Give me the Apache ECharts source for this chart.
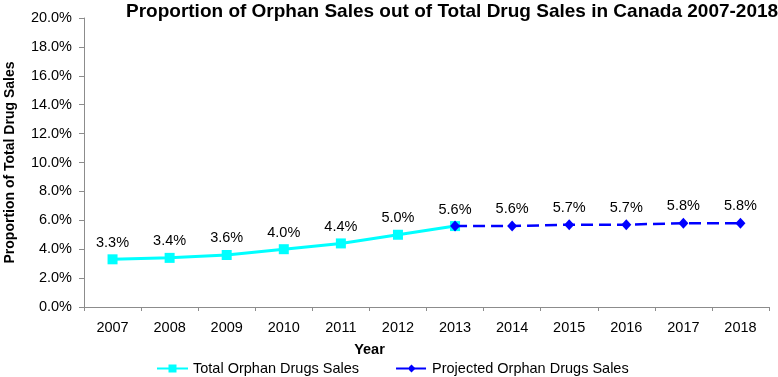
<!DOCTYPE html>
<html>
<head>
<meta charset="utf-8">
<script src="https://cdn.jsdelivr.net/npm/echarts@6/dist/echarts.min.js"></script>
<style>
  html, body { margin: 0; padding: 0; background: #fff; }
  #chart { width: 778px; height: 377px; }
</style>
</head>
<body>
<div id="chart"></div>
<script>
const years = ['2007', '2008', '2009', '2010', '2011', '2012', '2013', '2014', '2015', '2016', '2017', '2018'];
const totalSales = [3.3, 3.4, 3.6, 4.0, 4.4, 5.0, 5.6, '-', '-', '-', '-', '-'];
const projectedSales = ['-', '-', '-', '-', '-', '-', 5.6, 5.6, 5.7, 5.7, 5.8, 5.8];

const font = 'Liberation Sans, Arial, sans-serif';
const fs = 14.5;

const chart = echarts.init(document.getElementById('chart'));
chart.setOption({
    animation: false,
    textStyle: { fontFamily: font },
    title: {
        text: 'Proportion of Orphan Sales out of Total Drug Sales in Canada 2007-2018',
        left: 121,
        top: -3,
        textStyle: { fontSize: 19, fontWeight: 'bold', color: '#000', fontFamily: font }
    },
    grid: { left: 84, right: 9, top: 18, bottom: 70, outerBoundsMode: 'none' },
    legend: {
        bottom: -4,
        left: 151,
        itemGap: 36,
        itemWidth: 31,
        itemHeight: 10,
        textStyle: { fontSize: fs, color: '#000', fontFamily: font },
        data: ['Total Orphan Drugs Sales', 'Projected Orphan Drugs Sales']
    },
    xAxis: {
        type: 'category',
        data: years,
        boundaryGap: true,
        name: 'Year',
        nameLocation: 'middle',
        nameGap: 35,
        nameTextStyle: { fontSize: fs, fontWeight: 'bold', color: '#000', padding: [0, 114, 0, 0] },
        axisLine: { lineStyle: { color: '#8c8c8c', width: 1 } },
        axisTick: { show: true, length: 4, lineStyle: { color: '#8c8c8c' } },
        axisLabel: { fontSize: fs, color: '#000', margin: 13 },
        splitLine: { show: false }
    },
    yAxis: {
        type: 'value',
        min: 0,
        max: 20,
        interval: 2,
        name: 'Proportion of Total Drug Sales',
        nameLocation: 'middle',
        nameGap: 67,
        nameTextStyle: { fontSize: 14, fontWeight: 'bold', color: '#000' },
        axisLine: { show: true, lineStyle: { color: '#8c8c8c', width: 1 } },
        axisTick: { show: true, length: 5, lineStyle: { color: '#8c8c8c' } },
        axisLabel: { fontSize: fs, color: '#000', margin: 12, formatter: v => v.toFixed(1) + '%' },
        splitLine: { show: false }
    },
    series: [
        {
            name: 'Total Orphan Drugs Sales',
            type: 'line',
            data: totalSales,
            symbol: 'rect',
            symbolSize: 10,
            color: '#00ffff',
            lineStyle: { color: '#00ffff', width: 3 },
            itemStyle: { color: '#00ffff' },
            label: {
                show: true,
                position: 'top',
                distance: 4,
                fontSize: fs,
                color: '#000',
                formatter: p => p.value.toFixed(1) + '%'
            },
            z: 2
        },
        {
            name: 'Projected Orphan Drugs Sales',
            type: 'line',
            data: projectedSales,
            symbol: 'diamond',
            symbolSize: [10, 11],
            color: '#0000ff',
            lineStyle: { color: '#0000ff', width: 2.5, type: [12, 6] },
            itemStyle: { color: '#0000ff' },
            label: {
                show: true,
                position: 'top',
                distance: 4,
                fontSize: fs,
                color: '#000',
                formatter: p => (p.dataIndex === 6 ? '' : p.value.toFixed(1) + '%')
            },
            z: 3
        }
    ]
});
</script>
</body>
</html>
